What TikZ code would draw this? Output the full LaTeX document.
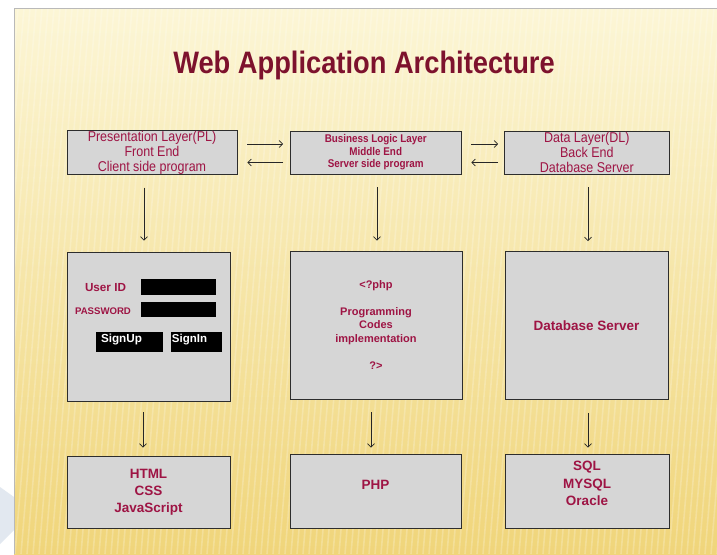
\documentclass[tikz,border=0pt]{standalone}
\usepackage{fontspec}
\setmainfont{Liberation Sans}
\newfontfamily\nar[FakeStretch=0.88]{Liberation Sans}
\usetikzlibrary{arrows.meta,calc}
\definecolor{crim}{RGB}{158,20,68}
\definecolor{titlec}{RGB}{125,18,45}
\definecolor{boxfill}{RGB}{214,214,214}
\definecolor{boxline}{RGB}{45,45,45}
\definecolor{chev}{RGB}{226,232,240}
\definecolor{bgtop}{RGB}{252,246,214}
\definecolor{bgbot}{RGB}{240,213,122}
\definecolor{edge}{RGB}{185,185,185}
\begin{document}
\begin{tikzpicture}[x=1pt,y=-1pt,
  box/.style={draw=boxline, line width=0.9pt, fill=boxfill, inner sep=0pt, align=center, text=crim},
  arr/.style={draw=black!85, line width=0.7pt, -{Straight Barb[length=3.5pt,width=7pt]}},
  field/.style={fill=black, inner sep=0pt},
  txt/.style={text=crim, align=center, inner sep=0pt}
]
\useasboundingbox (0,0) rectangle (717,554);
% background
\fill[white] (0,0) rectangle (717,554);
\fill[chev] (0,487) -- (14,497) -- (14,530) -- (0,544) -- cycle;
\shade[top color=bgtop, bottom color=bgbot] (14,8) rectangle (717,554);
\begin{scope}
  \clip (14,8) rectangle (717,554);
  \foreach \x in {0,6,...,780} \draw[white, opacity=0.22, line width=1.6pt] (\x,8) -- (\x-45,554);
\end{scope}
\draw[edge, line width=0.8pt] (14,554) -- (14,8) -- (717,8);

% title
\node[font=\nar\bfseries\fontsize{31}{31}\selectfont, text=titlec, inner sep=0pt] (title) at (364,65)
  {Web Application Architecture};

% top layer boxes
\node[box, minimum width=170pt, minimum height=43pt, font=\nar\fontsize{14.2}{15}\selectfont] (pl) at (152,152.5)
  {Presentation Layer(PL)\\Front End\\Client side program};
\node[box, minimum width=170.5pt, minimum height=43pt, font=\nar\bfseries\fontsize{11.2}{12.5}\selectfont] (bl) at (375.75,152.5)
  {Business Logic Layer\\Middle End\\Server side program};
\node[box, minimum width=164.4pt, minimum height=43pt, font=\nar\fontsize{14.2}{15}\selectfont] (dl) at (586.8,152.5)
  {Data Layer(DL)\\Back End\\Database Server};

% middle boxes
\node[box, minimum width=163pt, minimum height=149pt] (ui) at (148.5,326.5) {};
\node[box, minimum width=172pt, minimum height=148pt, font=\bfseries\fontsize{11}{13.5}\selectfont] (code) at (376,325)
  {{<}?php\\[13.5pt]Programming\\Codes\\implementation\\[13.5pt]?{>}};
\node[box, minimum width=163pt, minimum height=148pt, font=\bfseries\fontsize{13.5}{16}\selectfont] (db) at (586.5,325.5)
  {Database Server};

% bottom boxes
\node[box, minimum width=163pt, minimum height=72pt] (fe) at (148.5,492) {};
\node[box, minimum width=171pt, minimum height=74pt] (php) at (375.5,491) {};
\node[box, minimum width=164pt, minimum height=74pt] (sql) at (587,491) {};
\node[txt, font=\bfseries\fontsize{13.5}{17}\selectfont] at ($(fe.center)+(0,0)$) {HTML\\CSS\\JavaScript};
\node[txt, font=\bfseries\fontsize{13.5}{17}\selectfont] at ($(php.center)+(0,-6)$) {PHP};
\node[txt, font=\bfseries\fontsize{13.5}{17.5}\selectfont] at ($(sql.center)+(0,-7.5)$) {SQL\\MYSQL\\Oracle};

% login form
\node[txt, font=\bfseries\fontsize{11.7}{14}\selectfont] (uid) at (105.5,288) {User ID};
\node[txt, font=\bfseries\fontsize{9.6}{12}\selectfont] (pwd) at (103,311) {PASSWORD};
\node[field, minimum width=75pt, minimum height=16pt] (f1) at (178.5,287) {};
\node[field, minimum width=75pt, minimum height=15pt] (f2) at (178.5,309.5) {};
\node[field, minimum width=67pt, minimum height=20pt] (b1) at (129.5,342) {};
\node[field, minimum width=51pt, minimum height=20pt] (b2) at (196.5,342) {};
\node[text=white, font=\bfseries\fontsize{11.7}{14}\selectfont, inner sep=0pt] at (121.5,339.5) {SignUp};
\node[text=white, font=\bfseries\fontsize{11.5}{14}\selectfont, inner sep=0pt] at (189.5,339.5) {SignIn};

% horizontal arrows
\draw[arr, shorten <=10pt, shorten >=7pt] ($(pl.east)+(0,-8.5)$) -- ($(bl.west)+(0,-8.5)$);
\draw[arr, shorten <=7pt, shorten >=10pt] ($(bl.west)+(0,10)$) -- ($(pl.east)+(0,10)$);
\draw[arr, shorten <=10pt, shorten >=6pt] ($(bl.east)+(0,-8.5)$) -- ($(dl.west)+(0,-8.5)$);
\draw[arr, shorten <=6pt, shorten >=10pt] ($(dl.west)+(0,10)$) -- ($(bl.east)+(0,10)$);

% vertical arrows
\coordinate (a1) at ($(pl.south)+(-8,0)$);
\coordinate (a2) at ($(bl.south)+(1.2,0)$);
\coordinate (a3) at ($(dl.south)+(1.2,0)$);
\draw[arr, shorten <=13pt, shorten >=11pt] (a1) -- (a1 |- ui.north);
\draw[arr, shorten <=13pt, shorten >=10pt] (a2) -- (a2 |- code.north);
\draw[arr, shorten <=13pt, shorten >=10pt] (a3) -- (a3 |- db.north);
\coordinate (c1) at ($(ui.south)+(-5.5,0)$);
\coordinate (c2) at ($(code.south)+(-5,0)$);
\coordinate (c3) at ($(db.south)+(1.5,0)$);
\draw[arr, shorten <=11pt, shorten >=8pt] (c1) -- (c1 |- fe.north);
\draw[arr, shorten <=13pt, shorten >=6pt] (c2) -- (c2 |- php.north);
\draw[arr, shorten <=13pt, shorten >=6pt] (c3) -- (c3 |- sql.north);
\end{tikzpicture}
\end{document}
